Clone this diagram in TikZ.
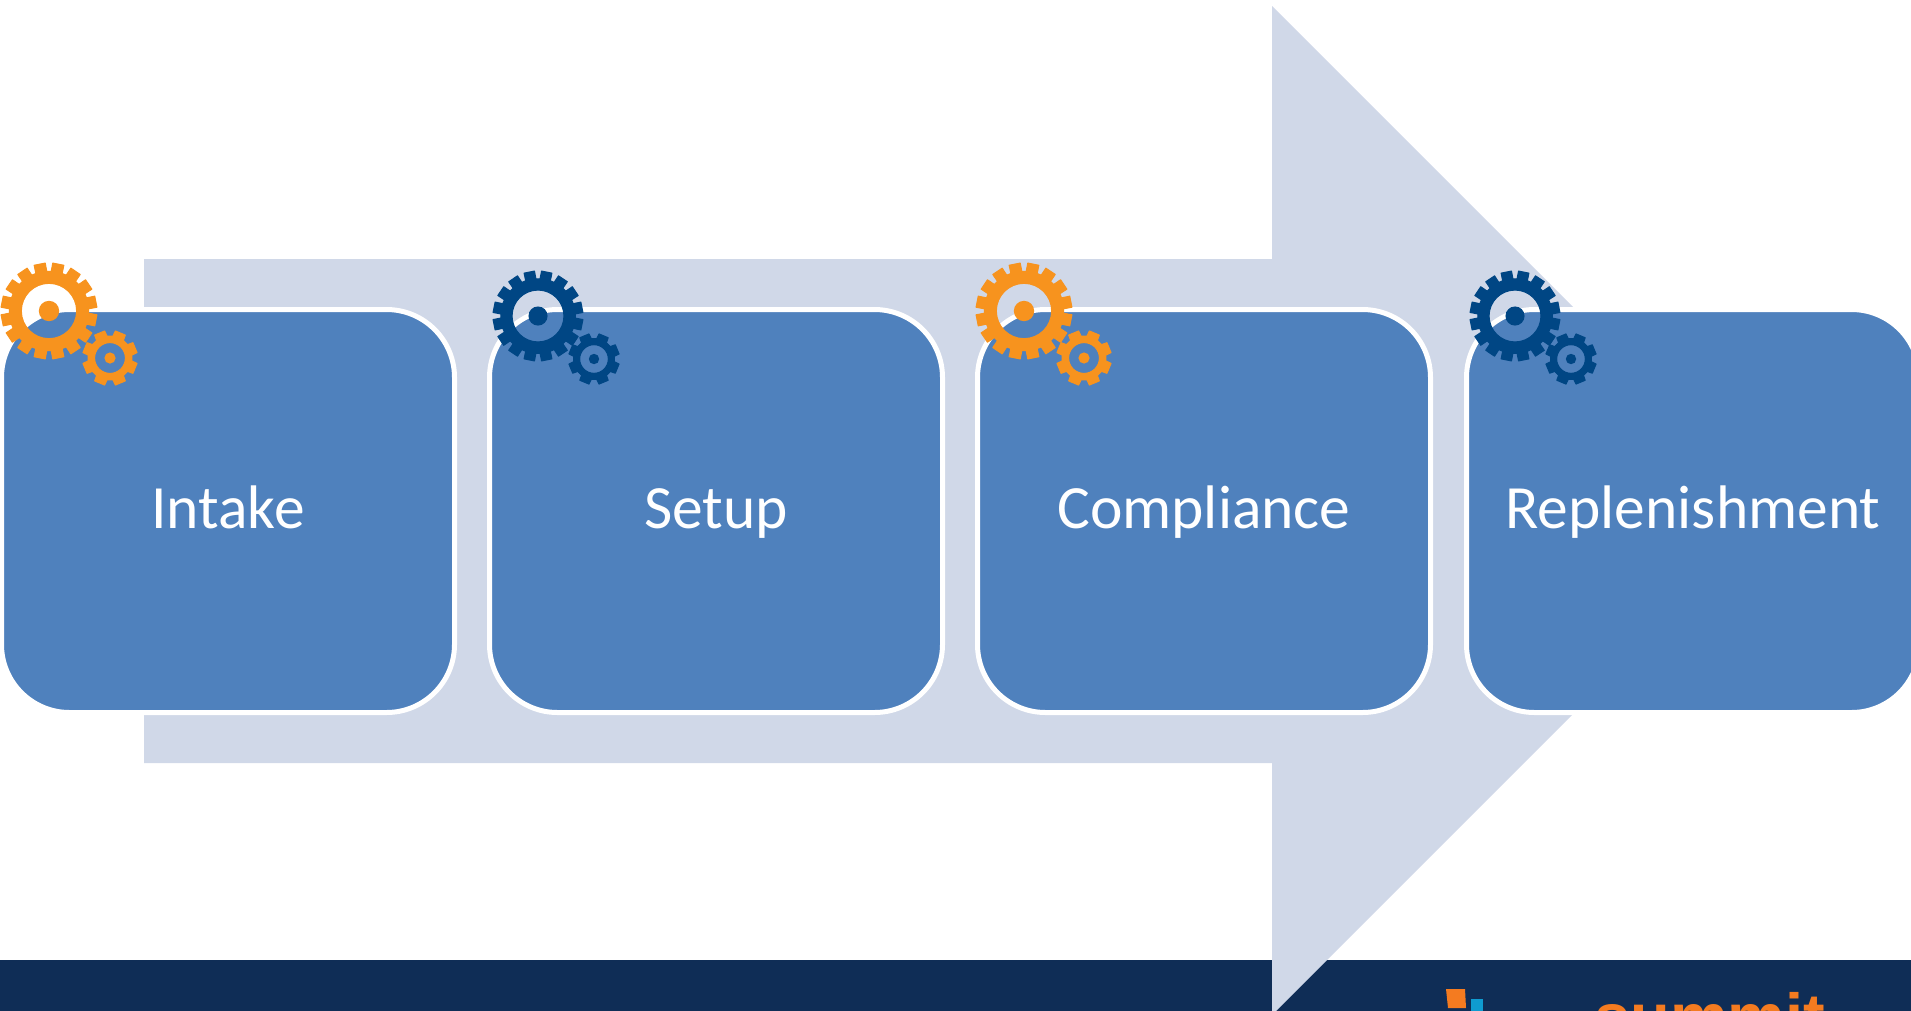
\documentclass[tikz,border=0pt]{standalone}
\usepackage{fontspec}
\setmainfont{Carlito}
\newfontfamily\logofont{Liberation Sans}
\definecolor{arrowc}{HTML}{D0D8E8}
\definecolor{boxc}{HTML}{4F81BD}
\definecolor{navyband}{HTML}{0F2D56}
\definecolor{gearorange}{HTML}{F7931E}
\definecolor{gearnavy}{HTML}{004684}
\definecolor{logoorange}{HTML}{F47B20}
\definecolor{logoblue}{HTML}{0F9BD0}
\tikzset{
  stage/.style={draw=white,line width=5pt,fill=boxc,rounded corners=68pt,minimum width=453pt,minimum height=403pt,
    inner sep=0pt,outer sep=0pt,text=white,font=\fontsize{61.5}{61.5}\selectfont,text height=40pt,text depth=6pt,align=center},
}
\newcommand{\gearshape}[9]{%
  % cx cy R root hole hub teeth offset colour
  \filldraw[#9,line width=1pt,line join=round,even odd rule]
    \foreach \k [evaluate=\k as \a using #8+\k*360/#7] in {1,...,#7} {
      \ifnum\k=1 ({#1+(#4)*cos(\a-\rootfrac*360/#7)},{#2+(#4)*sin(\a-\rootfrac*360/#7)})
      \else -- ({#1+(#4)*cos(\a-\rootfrac*360/#7)},{#2+(#4)*sin(\a-\rootfrac*360/#7)})\fi
      -- ({#1+(#3)*cos(\a-\tipfrac*360/#7)},{#2+(#3)*sin(\a-\tipfrac*360/#7)})
      -- ({#1+(#3)*cos(\a+\tipfrac*360/#7)},{#2+(#3)*sin(\a+\tipfrac*360/#7)})
      -- ({#1+(#4)*cos(\a+\rootfrac*360/#7)},{#2+(#4)*sin(\a+\rootfrac*360/#7)})
    } -- cycle (#1,#2) circle[radius=#5];
  \fill[#9] (#1,#2) circle[radius=#6];
}
\newcommand{\rootfrac}{0.33}
\newcommand{\tipfrac}{0.27}
\newcommand{\gearpair}[7]{%
  % big cx cy R ; small cx cy R; colour
  \renewcommand{\rootfrac}{0.36}\renewcommand{\tipfrac}{0.30}%
  \gearshape{#1}{#2}{#3-0.4}{#3*0.82}{#3*0.57}{#3*0.21}{16}{11.25}{#7}
  \begin{scope}
    \clip (#4-40,#5-40) rectangle (#4+40,385.5);
    \renewcommand{\rootfrac}{0.33}\renewcommand{\tipfrac}{0.25}%
    \gearshape{#4}{#5}{#6-0.4}{#6*0.79}{#6*0.55}{#6*0.2}{8}{22.5}{#7}
  \end{scope}
}
\begin{document}
\begin{tikzpicture}[x=1pt,y=-1pt]
\useasboundingbox (0,0) rectangle (1911,1010);
\clip (0,0) rectangle (1912,1012);
\fill[navyband] (0,960) rectangle (1912,1012);
\fill[arrowc] (144,259) -- (1272,259) -- (1272,6) -- (1776.5,510.5) -- (1272,1015) -- (1272,763) -- (144,763) -- cycle;
\node[stage] (intake) at (228,511) {Intake};
\node[stage] (setup) at (716,511) {Setup};
\node[stage] (compliance) at (1204,511) {Compliance};
\node[stage] (replen) at (1693,511) {Replenishment};
\gearpair{49}{311}{48.5}{110}{358}{28}{gearorange}
\gearpair{538}{316}{45.5}{594}{359}{26}{gearnavy}
\gearpair{1024}{311}{48.5}{1084}{358}{28}{gearorange}
\gearpair{1515}{316}{45.5}{1571}{359}{26}{gearnavy}
\fill[logoorange] (1446,989) -- (1465,989) -- (1466,1008) -- (1448,1008) -- cycle;
\fill[logoblue] (1471,999) rectangle (1483,1012);
\node[anchor=base west,inner sep=0pt,text=logoorange,font=\logofont\bfseries\fontsize{65}{65}\selectfont] (logo) at (1594,1039) {summit};
\end{tikzpicture}
\end{document}
